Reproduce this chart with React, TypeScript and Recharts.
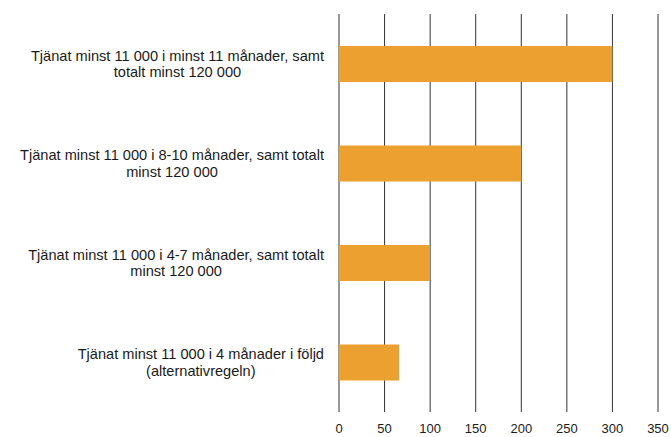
import { BarChart, Bar, XAxis, YAxis, CartesianGrid } from 'recharts'

const categories = [
  'Tjänat minst 11 000 i minst 11 månader, samt\ntotalt minst 120 000',
  'Tjänat minst 11 000 i 8-10 månader, samt totalt\nminst 120 000',
  'Tjänat minst 11 000 i 4-7 månader, samt totalt\nminst 120 000',
  'Tjänat minst 11 000 i 4 månader i följd\n(alternativregeln)',
]
const values = [300, 200, 100, 66]
const xTicks = [0, 50, 100, 150, 200, 250, 300, 350]

const data = categories.map((name, i) => ({ name, value: values[i] }))

const FONT = "'Liberation Sans', Arial, sans-serif"
const LABEL_SIZE = 14.6

let ctx: CanvasRenderingContext2D | null = null
function textWidth(s: string) {
  if (!ctx) ctx = document.createElement('canvas').getContext('2d')
  if (!ctx) return s.length * 7
  ctx.font = `${LABEL_SIZE}px ${FONT}`
  return ctx.measureText(s).width
}

// two-line labels, lines centred on each other, right edge near the axis
function CategoryTick({ x, y, payload }: any) {
  const lines = String(payload.value).split('\n')
  const maxW = Math.max(...lines.map(textWidth))
  const cx = x - 7 - maxW / 2
  const lh = 16.5
  const startY = y - ((lines.length - 1) * lh) / 2
  return (
    <text textAnchor="middle" fontSize={LABEL_SIZE} fontFamily={FONT} fill="#1a1a1a">
      {lines.map((l, i) => (
        <tspan key={i} x={cx} y={startY + i * lh} dy="0.35em">
          {l}
        </tspan>
      ))}
    </text>
  )
}

export default function App() {
  return (
    <div style={{ position: 'absolute', left: 0, top: 0, width: 671, height: 437, background: '#fff' }}>
      <BarChart
        width={671}
        height={437}
        data={data}
        layout="vertical"
        margin={{ top: 14, right: 13, left: 0, bottom: 0 }}
      >
        <CartesianGrid horizontal={false} stroke="#333" />
        <XAxis
          type="number"
          domain={[0, 350]}
          ticks={xTicks}
          axisLine={false}
          tickLine={false}
          tickMargin={6}
          height={25}
          tick={{ fontSize: 13, fill: '#1a1a1a', fontFamily: FONT }}
        />
        <YAxis
          type="category"
          dataKey="name"
          width={339}
          axisLine={false}
          tickLine={false}
          tick={<CategoryTick />}
        />
        <Bar dataKey="value" fill="#EBA030" barSize={36} isAnimationActive={false} />
      </BarChart>
    </div>
  )
}
